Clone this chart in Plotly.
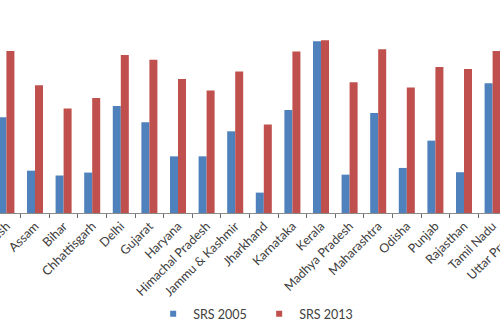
import plotly.graph_objects as go

states = ["Andhra Pradesh", "Assam", "Bihar", "Chhattisgarh", "Delhi", "Gujarat",
          "Haryana", "Himachal Pradesh", "Jammu & Kashmir", "Jharkhand", "Karnataka",
          "Kerala", "Madhya Pradesh", "Maharashtra", "Odisha", "Punjab", "Rajasthan",
          "Tamil Nadu", "Uttar Pradesh"]
srs_2005 = [55.4, 24.5, 21.7, 23.4, 62.0, 52.5, 32.8, 32.8, 47.3, 11.8, 59.6,
            99.4, 22.2, 57.9, 26.1, 41.9, 23.6, 75.1, 20.0]
srs_2013 = [93.8, 73.9, 60.5, 66.6, 91.5, 88.8, 77.6, 70.9, 81.9, 51.2, 93.5,
            100.0, 75.7, 94.8, 72.6, 84.5, 83.4, 93.8, 65.0]

BLUE = "#4F81BD"
RED = "#C0504D"
FONT = "Lato"

W, H = 530, 319
step = 28.6
x0px = 6.4

fig = go.Figure()
fig.add_trace(go.Bar(x=states, y=srs_2005, name="SRS 2005", marker_color=BLUE,
                     marker_line_width=0, showlegend=False))
fig.add_trace(go.Bar(x=states, y=srs_2013, name="SRS 2013", marker_color=RED,
                     marker_line_width=0, showlegend=False))
# legend entries
fig.add_trace(go.Scatter(x=[None], y=[None], mode="markers", name="SRS 2005",
                         marker=dict(symbol="square", size=6, color=BLUE)))
fig.add_trace(go.Scatter(x=[None], y=[None], mode="markers", name="SRS 2013",
                         marker=dict(symbol="square", size=6, color=RED)))

fig.update_layout(
    width=W, height=H,
    margin=dict(l=0, r=0, t=0, b=106, pad=0, autoexpand=False),
    paper_bgcolor="white", plot_bgcolor="white",
    barmode="group", bargap=0.44, bargroupgap=0,
    font=dict(family=FONT, size=12, color="#404040"),
    legend=dict(orientation="h", x=0.289, xanchor="left", y=-0.475, yanchor="middle",
                font=dict(family=FONT, size=12.5, color="#404040"),
                entrywidth=61, itemwidth=30, bgcolor="rgba(0,0,0,0)"),
)
fig.update_xaxes(
    type="category", automargin=False,
    range=[-x0px / step, (W - x0px) / step],
    showline=True, linecolor="#8a8a8a", linewidth=1,
    ticks="outside", tickson="boundaries", ticklen=4, tickcolor="#6e6e6e",
    tickangle=-45, tickfont=dict(family=FONT, size=12.5, color="#404040"),
    showgrid=False, zeroline=False,
)
fig.update_yaxes(range=[0, 213 / 1.727], visible=False, showgrid=False)

fig.write_html("out.html",
               config={"displayModeBar": False},
               post_script="document.documentElement.style.overflow='hidden';"
                           "document.body.style.overflow='hidden';"
                           "document.body.style.margin='0';")
